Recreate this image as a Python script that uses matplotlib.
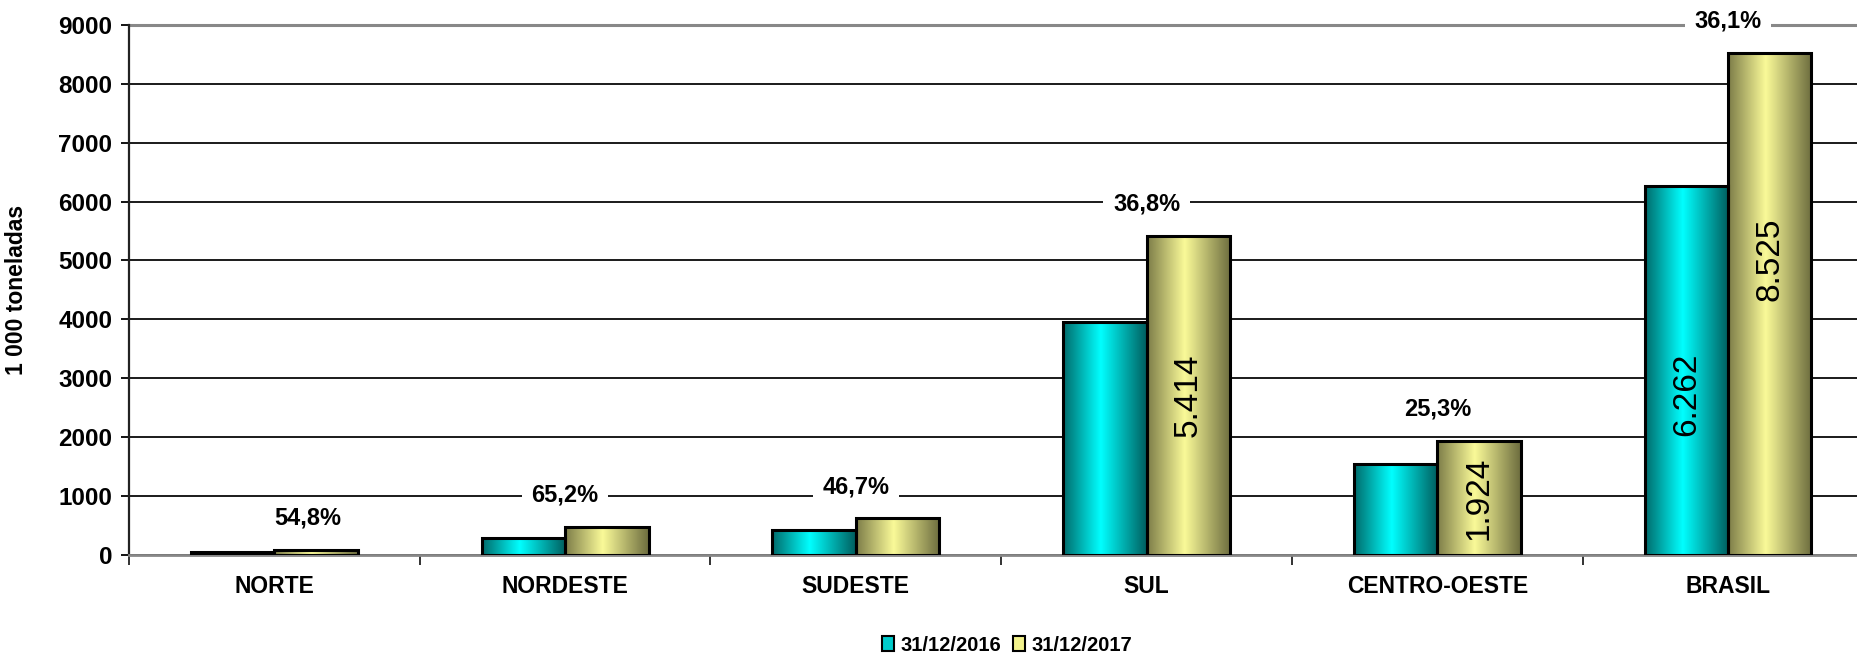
import numpy as np
import matplotlib.pyplot as plt
from matplotlib.colors import LinearSegmentedColormap
from matplotlib.patches import Patch

plt.rcParams['font.family'] = ['Liberation Sans', 'DejaVu Sans']

# data (1 000 toneladas)
regions = ['NORTE', 'NORDESTE', 'SUDESTE', 'SUL', 'CENTRO-OESTE', 'BRASIL']
vals_2016 = [45, 285, 418, 3958, 1536, 6262]
vals_2017 = [70, 471, 613, 5414, 1924, 8525]
growth = ['54,8%', '65,2%', '46,7%', '36,8%', '25,3%', '36,1%']
lbl_2016 = ['', '', '', '', '', '6.262']
lbl_2017 = ['', '', '', '5.414', '1.924', '8.525']
series_names = ['31/12/2016', '31/12/2017']

teal_cmap = LinearSegmentedColormap.from_list(
    'teal', [(0, '#006a6a'), (0.45, '#00ffff'), (1, '#005e5e')])
yell_cmap = LinearSegmentedColormap.from_list(
    'yell', [(0, '#7c7c48'), (0.45, '#fafa98'), (1, '#6c6c3e')])


def gradient_bars(ax, bars, cmap):
    grad = np.linspace(0, 1, 256).reshape(1, -1)
    for b in bars:
        x0, y0 = b.get_x(), b.get_y()
        w, h = b.get_width(), b.get_height()
        im = ax.imshow(grad, cmap=cmap, aspect='auto', zorder=2,
                       extent=(x0, x0 + w, y0, y0 + h), interpolation='bilinear')
        im.set_clip_path(b)
        b.set_facecolor('none')


fig = plt.figure(figsize=(18.58, 6.53), dpi=100)
ax = fig.add_axes([0.0694, 0.1508, 0.9306, 0.8105])

x = np.arange(len(regions))
w = 0.287
b16 = ax.bar(x - w / 2, vals_2016, w, edgecolor='black', linewidth=2.2, zorder=3)
b17 = ax.bar(x + w / 2, vals_2017, w, edgecolor='black', linewidth=2.2, zorder=3)
gradient_bars(ax, b16, teal_cmap)
gradient_bars(ax, b17, yell_cmap)

ax.set_xlim(-0.495, 5.447)
ax.set_ylim(0, 9000)

# value labels inside bars
t16 = ax.bar_label(b16, labels=lbl_2016, label_type='center', rotation=90,
                   fontsize=24, zorder=5)
t17 = ax.bar_label(b17, labels=lbl_2017, label_type='center', rotation=90,
                   fontsize=24, zorder=5)
# BRASIL labels sit off-centre in the original
t16[5].xyann = (0, -17)
t17[5].xyann = (0, 32)

# growth labels above the bars
for i, g in enumerate(growth):
    dx = 24 if i == 0 else 0
    ax.annotate(g, xy=(x[i], vals_2017[i]), xytext=(dx, 23),
                textcoords='offset points', ha='center', va='center',
                fontsize=17, fontweight='bold', zorder=6,
                bbox=dict(fc='white', ec='none', pad=7))

# grid and spines
ax.set_yticks(np.arange(0, 9001, 1000))
ax.yaxis.grid(True, color='#1a1a1a', linewidth=1.4, zorder=0)
ax.set_axisbelow(True)
for s in ['top', 'right']:
    ax.spines[s].set_visible(False)
ax.spines['left'].set_color('#222222')
ax.spines['left'].set_linewidth(1.6)
ax.spines['bottom'].set_color('#888888')
ax.spines['bottom'].set_linewidth(2)
ax.axhline(9000, color='#888888', linewidth=2.2, zorder=1, clip_on=False)

ax.tick_params(axis='y', length=6, width=1.3, pad=6, labelsize=17.5)
for lab in ax.get_yticklabels():
    lab.set_fontweight('bold')

ax.set_xticks(x)
ax.set_xticklabels(regions, fontsize=16.5, fontweight='bold')
ax.tick_params(axis='x', which='major', length=0, pad=15)
ax.set_xticks(np.arange(-0.5, 5.5, 1), minor=True)
ax.tick_params(axis='x', which='minor', length=7, width=1.3, color='#222222')

ax.set_ylabel('1 000 toneladas', fontsize=16.5, fontweight='bold', va='center')
ax.yaxis.set_label_coords(-0.0648, 0.5)

handles = [Patch(facecolor='#00cccc', edgecolor='black', linewidth=1.5),
           Patch(facecolor='#f2f28c', edgecolor='black', linewidth=1.5)]
fig.legend(handles, series_names, loc='center', bbox_to_anchor=(0.542, 0.012),
           ncol=2, frameon=False, handlelength=0.6, handleheight=0.8,
           handletextpad=0.3, columnspacing=0.6,
           prop={'weight': 'bold', 'size': 14.5})

fig.savefig('out.png', dpi=100)
